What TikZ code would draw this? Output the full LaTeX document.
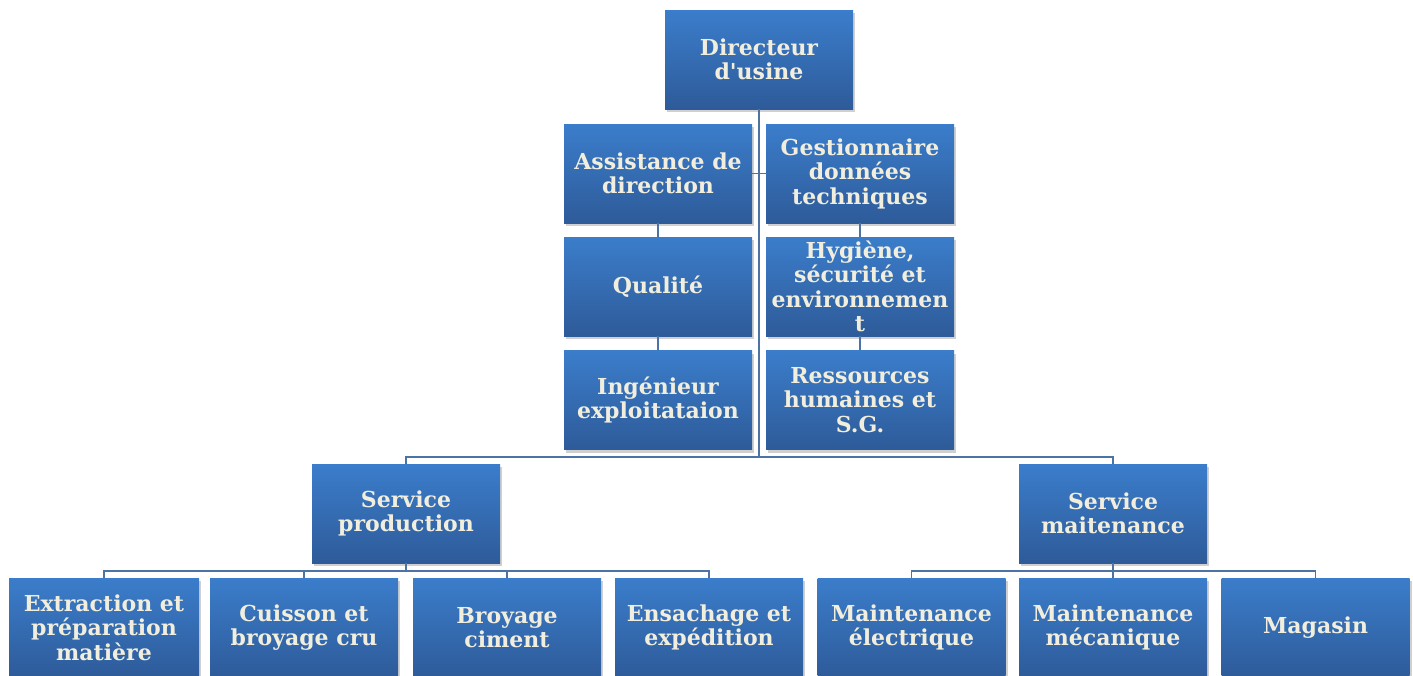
\documentclass[tikz,border=0pt]{standalone}
\usepackage{fontspec}
\setmainfont{DejaVu Serif}
\newfontfamily\boxfont{DejaVu Serif}
\usetikzlibrary{shadows}
\definecolor{boxtop}{HTML}{3B7DCB}
\definecolor{boxbot}{HTML}{2E5B99}
\definecolor{boxtxt}{HTML}{F1EEDD}
\definecolor{linec}{HTML}{4D73A5}
\tikzset{
  orgbox/.style={rectangle, minimum width=188pt, minimum height=99pt, inner sep=0pt,
    top color=boxtop, bottom color=boxbot, draw=none, text=boxtxt, align=center,
    font=\boxfont\bfseries\fontsize{22}{24.5}\selectfont,
    drop shadow={shadow xshift=2pt, shadow yshift=-3pt, opacity=0.3, fill=black!60}},
  lowbox/.style={orgbox},
  conn/.style={draw=linec, line width=1.6pt}
}
\begin{document}
\begin{tikzpicture}[x=1pt,y=-1pt]
\useasboundingbox[fill=white] (0,0) rectangle (1413,675);
\begin{scope}
\clip (0,0) rectangle (1413,675);
\node[orgbox] (dir) at (759,59.5) {Directeur\\d'usine};
\node[orgbox] (assist) at (658,173.5) {Assistance de\\direction};
\node[orgbox] (gest) at (860,173.5) {Gestionnaire\\données\\techniques};
\node[orgbox] (qual) at (658,286.5) {Qualité};
\node[orgbox] (hyg) at (860,286.5) {Hygiène,\\sécurité et\\environnemen\\t};
\node[orgbox] (ing) at (658,400) {Ingénieur\\exploitataion};
\node[orgbox] (rh) at (860,400) {Ressources\\humaines et\\S.G.};
\node[orgbox] (sp) at (406,513.5) {Service\\production};
\node[orgbox] (sm) at (1113,513.5) {Service\\maitenance};
\node[lowbox, minimum width=190pt] (ext) at (104,627.5) {Extraction et\\préparation\\matière};
\node[lowbox] (cuis) at (304,627.5) {Cuisson et\\broyage cru};
\node[lowbox] (broy) at (507,627.5) {Broyage\\ciment};
\node[lowbox] (ens) at (709,627.5) {Ensachage et\\expédition};
\node[lowbox] (me) at (911.5,627.5) {Maintenance\\électrique};
\node[lowbox] (mm) at (1113,627.5) {Maintenance\\mécanique};
\node[lowbox] (mag) at (1315.5,627.5) {Magasin};
\coordinate (bustop) at (759,457);
\coordinate (busp) at (406,571);
\coordinate (busm) at (1113,571);
\draw[conn] (dir.south) -- (bustop);
\draw[conn] (sp.north) |- (bustop) -| (sm.north);
\draw[conn] (assist.east) -- (gest.west);
\draw[conn] (assist.south) -- (qual.north);
\draw[conn] (qual.south) -- (ing.north);
\draw[conn] (gest.south) -- (hyg.north);
\draw[conn] (hyg.south) -- (rh.north);
\draw[conn] (sp.south) -- (busp);
\draw[conn] (ext.north) |- (busp) -| (ens.north);
\draw[conn] (cuis.north) -- (cuis.north |- busp);
\draw[conn] (broy.north) -- (broy.north |- busp);
\draw[conn] (sm.south) -- (busm);
\draw[conn] (me.north) |- (busm) -| (mag.north);
\draw[conn] (mm.north) -- (busm);
\end{scope}
\end{tikzpicture}
\end{document}
